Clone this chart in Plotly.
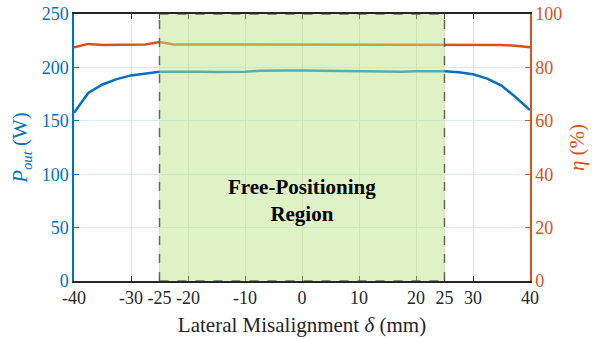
import plotly.graph_objects as go

delta = [-40, -37.5, -35, -32.5, -30, -27.5, -25, -22.5, -20, -17.5, -15, -12.5, -10, -7.5, -5, -2.5,
         0, 2.5, 5, 7.5, 10, 12.5, 15, 17.5, 20, 22.5, 25, 27.5, 30, 32.5, 35, 37.5, 40]
p_out = [157.5, 176, 184, 189, 192.5, 194.5, 196, 196, 196.2, 196, 195.8, 195.8, 196, 196.8, 197.2, 197.2,
         197, 196.8, 196.6, 196.4, 196.2, 196, 195.8, 196, 196.3, 196.5, 196.5, 195.5, 193.5, 189.5, 183, 172, 160]
eta = [87.5, 88.8, 88.4, 88.5, 88.6, 88.6, 89.5, 88.6, 88.6, 88.6, 88.6, 88.6, 88.6, 88.6, 88.6, 88.6,
       88.6, 88.6, 88.6, 88.6, 88.6, 88.6, 88.6, 88.6, 88.6, 88.6, 88.6, 88.6, 88.6, 88.5, 88.4, 88.1, 87.5]
x_ticks = [-40, -30, -25, -20, -10, 0, 10, 20, 25, 30, 40]
y1_ticks = [0, 50, 100, 150, 200, 250]
y2_ticks = [0, 20, 40, 60, 80, 100]
region = [-25, 25]

BLUE = "#0072BD"
ORANGE = "#D95319"
DARK = "#262626"
FONT = "Times New Roman, Liberation Serif, serif"

fig = go.Figure()
fig.add_trace(go.Scatter(x=delta, y=p_out, mode="lines", line=dict(color=BLUE, width=2.5),
                         yaxis="y", showlegend=False))
fig.add_trace(go.Scatter(x=delta, y=eta, mode="lines", line=dict(color=ORANGE, width=2.5),
                         yaxis="y2", showlegend=False))

fig.add_shape(type="rect", xref="x", yref="y", x0=region[0], x1=region[1], y0=0, y1=250,
              fillcolor="rgba(190,230,140,0.5)", line=dict(width=0), layer="above")
for xv in region:
    fig.add_shape(type="line", xref="x", yref="y", x0=xv, x1=xv, y0=0, y1=250,
                  line=dict(color="rgba(90,90,90,0.9)", width=1.5, dash="dash"), layer="above")
for yv in [0, 250]:
    fig.add_shape(type="line", xref="x", yref="y", x0=region[0], x1=region[1], y0=yv, y1=yv,
                  line=dict(color="rgba(90,90,90,0.9)", width=1.5, dash="dash"), layer="above")

fig.add_annotation(x=0, y=75, xref="x", yref="y", text="<b>Free-Positioning</b><br><b>Region</b>",
                   showarrow=False, font=dict(family=FONT, size=21, color="black"))

fig.update_layout(
    width=592, height=339,
    margin=dict(l=74, r=62, t=14, b=58),
    paper_bgcolor="white", plot_bgcolor="white",
    font=dict(family=FONT, size=18),
    xaxis=dict(range=[-40, 40], tickvals=x_ticks, ticktext=[str(v) for v in x_ticks],
               ticks="inside", ticklen=5, tickcolor=DARK, showline=True, linecolor=DARK,
               linewidth=1.5, mirror="ticks", showgrid=True, gridcolor="#dedede", gridwidth=1,
               zeroline=False, automargin=False, tickfont=dict(family=FONT, color=DARK, size=18),
               title=dict(text="Lateral Misalignment <i>δ</i> (mm)",
                          font=dict(family=FONT, size=21, color=DARK), standoff=10)),
    yaxis=dict(range=[0, 250], tickvals=y1_ticks, ticks="inside", ticklen=5, tickcolor=BLUE,
               showline=True, linecolor=BLUE, linewidth=1.5, showgrid=True, gridcolor="#d9eaf5",
               zeroline=False, automargin=False, tickfont=dict(family=FONT, color=BLUE, size=18),
               title=dict(text="<i>P</i><sub><i>out</i></sub> (W)",
                          font=dict(family=FONT, size=21, color=BLUE), standoff=8)),
    yaxis2=dict(range=[0, 100], tickvals=y2_ticks, ticks="inside", ticklen=5, tickcolor=ORANGE,
                overlaying="y", side="right", showline=True, linecolor=ORANGE, linewidth=1.5,
                showgrid=False, zeroline=False, automargin=False,
                tickfont=dict(family=FONT, color=ORANGE, size=18),
                title=dict(text="<i>η</i> (%)", font=dict(family=FONT, size=21, color=ORANGE),
                           standoff=8)),
)

fig.write_html("out.html")
